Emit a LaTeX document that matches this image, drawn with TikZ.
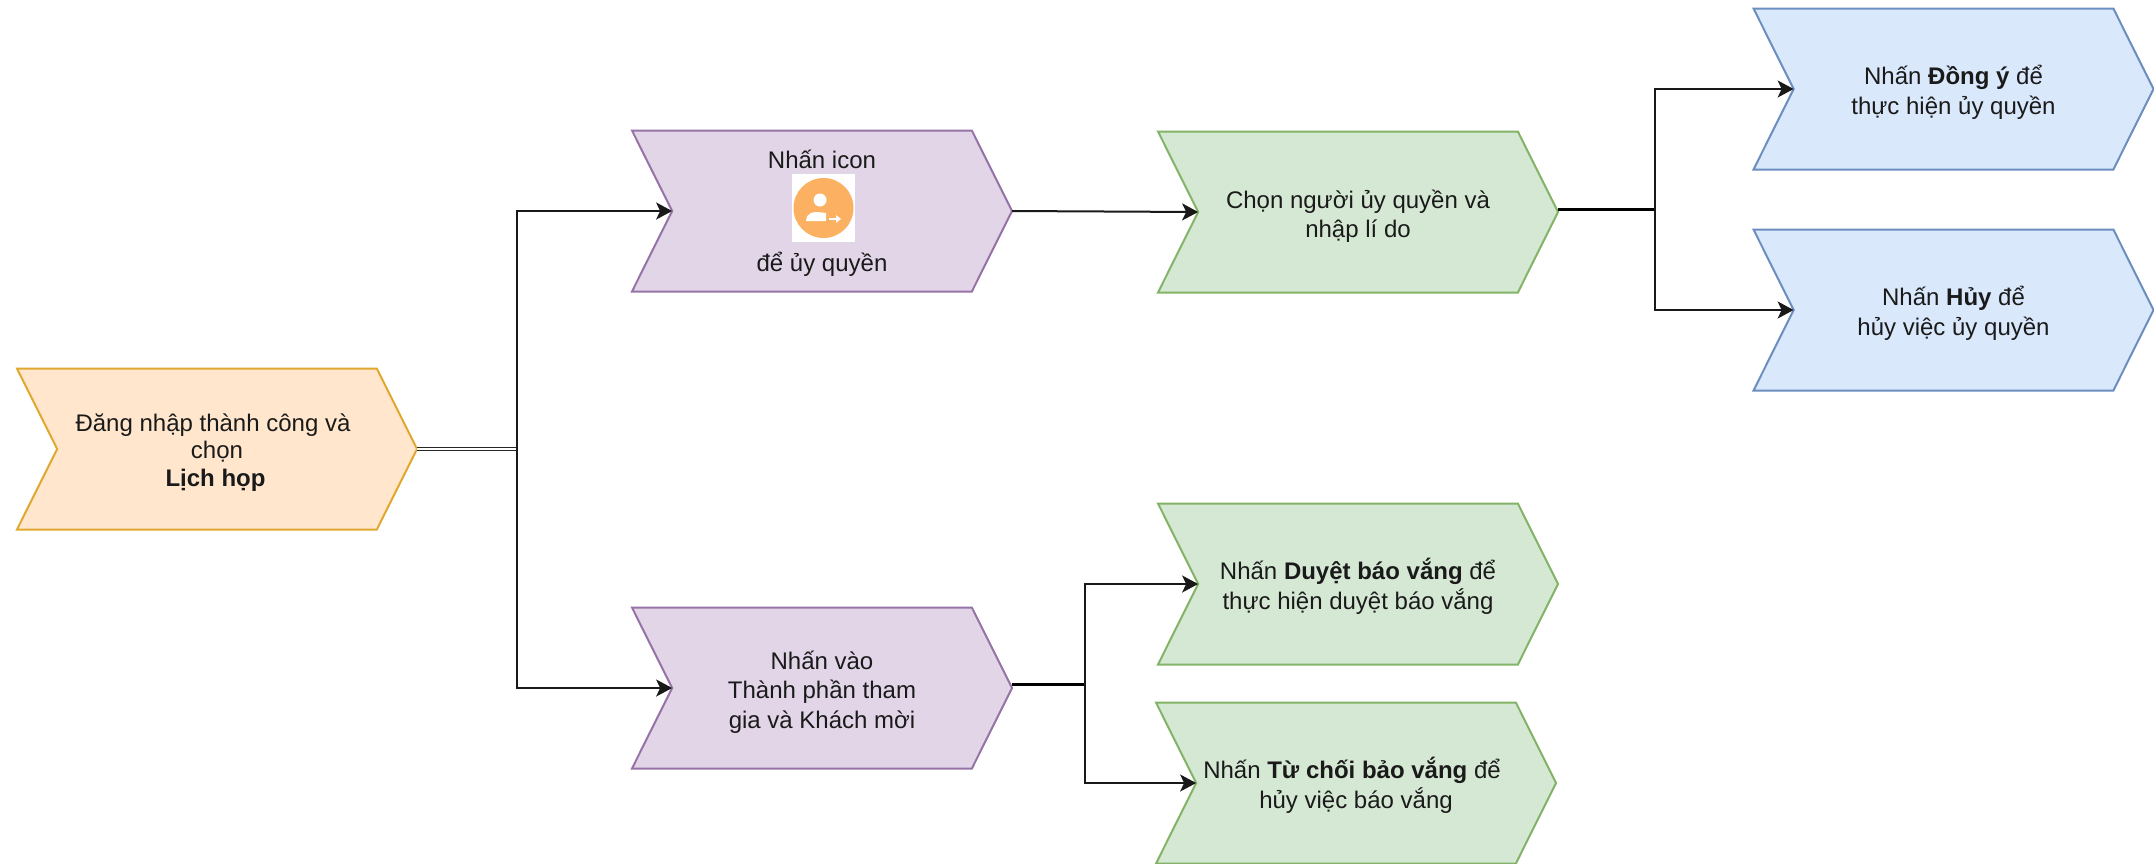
\documentclass[tikz,border=0pt]{standalone}
\usepackage{fontspec}
\setmainfont{Liberation Sans}
\usetikzlibrary{shapes.symbols,arrows.meta}
\definecolor{orF}{HTML}{FFE6CC}\definecolor{orD}{HTML}{E0A82E}
\definecolor{puF}{HTML}{E1D5E7}\definecolor{puD}{HTML}{9673A6}
\definecolor{grF}{HTML}{D5E8D4}\definecolor{grD}{HTML}{82B366}
\definecolor{blF}{HTML}{DAE8FC}\definecolor{blD}{HTML}{6C8EBF}
\definecolor{iconO}{HTML}{FBB161}
\definecolor{txt}{HTML}{1A1A1A}
\newcommand{\dn}[1]{\rule{0pt}{\dimexpr 23pt+2\dimexpr #1\relax\relax}}
\tikzset{
  x=1pt,y=-1pt,
  chev/.style={signal,signal to=east,signal from=west,signal pointer angle=127,
    minimum width=400pt,minimum height=161pt,inner sep=0pt,outer sep=0pt,
    line width=2pt,align=center,text=txt,font=\fontsize{24}{29.5}\selectfont},
  orchev/.style={chev,fill=orF,draw=orD},
  puchev/.style={chev,fill=puF,draw=puD,minimum width=380pt},
  grchev/.style={chev,fill=grF,draw=grD},
  blchev/.style={chev,fill=blF,draw=blD},
  link/.style={line width=2pt,black!90},
  arrowlink/.style={link,-{Stealth[length=16pt,width=17pt,inset=4pt]}},
  thicklink/.style={line width=3pt,black},
  doublelink/.style={line width=1.4pt,black!85,double=white,double distance=1.8pt},
}
\begin{document}
\begin{tikzpicture}
\useasboundingbox (0,0) rectangle (2154,863);
\node[orchev,font=\fontsize{24}{27.5}\selectfont] (login) at (217,449) {\dn{0.7pt}Đăng nhập thành công và\hspace*{8pt}\\chọn\hspace*{3pt}\\\textbf{Lịch họp}\hspace*{3pt}};
\node[puchev] (icon) at (822,211) {\dn{-0.5pt}Nhấn icon\\[73.5pt]để ủy quyền};
\node[fill=white,minimum width=63pt,minimum height=68pt,inner sep=0pt] (iconbg) at (823.5,208) {};
\node[circle,fill=iconO,minimum size=60pt,inner sep=0pt] (iconc) at (iconbg.center) {};
\fill[white] (820,200) circle (6.5);
\fill[white] (806,221) .. controls (807,212) and (812,211) .. (826,213) -- (826,221) -- cycle;
\fill[white] (829,218) rectangle (838,220);
\fill[white] (836,215) -- (841,219) -- (836,223) -- cycle;
\node[puchev] (guest) at (822,688) {\dn{1.5pt}Nhấn vào\\Thành phần tham\\gia và Khách mời};
\node[grchev] (pick) at (1358,212) {\dn{2pt}Chọn người ủy quyền và\\nhập lí do};
\node[grchev] (approve) at (1358,584) {\dn{1.7pt}Nhấn \textbf{Duyệt báo vắng} để\\thực hiện duyệt báo vắng};
\node[grchev] (reject) at (1356,783) {\dn{1.7pt}Nhấn \textbf{Từ chối bảo vắng} để\hspace*{8pt}\\hủy việc báo vắng};
\node[blchev] (agree) at (1953.5,89) {\dn{1.5pt}Nhấn \textbf{Đồng ý} để\\thực hiện ủy quyền};
\node[blchev] (cancel) at (1953.5,310) {\dn{1.7pt}Nhấn \textbf{Hủy} để\\hủy việc ủy quyền};
\coordinate (j1) at (login.east -| 517,0);
\coordinate (j2) at ([yshift=2.5pt]pick.east -| 1655,0);
\coordinate (j3) at ([yshift=4pt]guest.east -| 1085,0);
\draw[doublelink] (login.east) -- (j1);
\draw[arrowlink] (j1) |- (icon.west);
\draw[arrowlink] (j1) |- (guest.west);
\draw[arrowlink] (icon.east) -- (pick.west);
\draw[thicklink] ([yshift=2.5pt]pick.east) -- (j2);
\draw[arrowlink] (j2) |- (agree.west);
\draw[arrowlink] (j2) |- (cancel.west);
\draw[thicklink] ([yshift=4pt]guest.east) -- (j3);
\draw[arrowlink] (j3) |- (approve.west);
\draw[arrowlink] (j3) |- (reject.west);
\end{tikzpicture}
\end{document}
